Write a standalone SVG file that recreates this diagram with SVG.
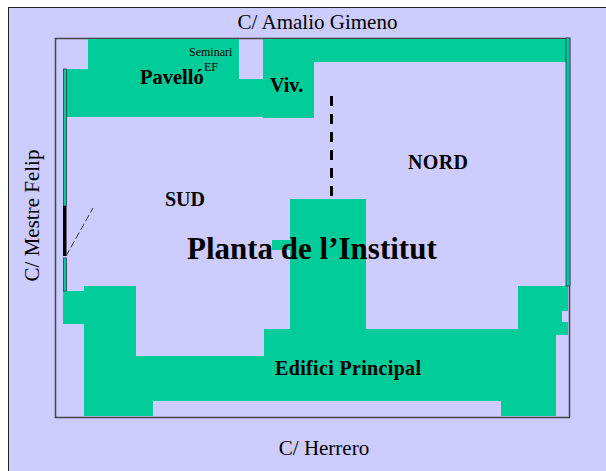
<svg xmlns="http://www.w3.org/2000/svg" width="606" height="471" viewBox="0 0 606 471">
<style>
.g{fill:#00cc99}
.t{font-family:"Liberation Serif",serif;fill:#000}
.b{font-weight:bold}
.e{stroke:#335;stroke-width:.8}
</style>
<rect width="606" height="471" fill="#fff"/>
<rect x="8.500" y="7.500" width="600" height="470" fill="#ccccff" stroke="#222" stroke-width="1"/>
<rect x="55.500" y="38.500" width="514" height="379" fill="none" stroke="#444" stroke-width="1.500"/>
<g id="pavello"><polygon class="g" points="88,39 239,39 239,79 263,79 263,39 566,39 566,62 314,62 314,118 263,118 263,117 66,117 66,69 88,69"/>
<text class="t b" x="140" y="84" font-size="20.500">Pavelló</text>
<text class="t" x="189" y="56" font-size="12">Seminari</text>
<text class="t" x="204" y="71" font-size="12">EF</text>
<text class="t b" x="270" y="92" font-size="20">Viv.</text></g>
<g id="edifici"><polygon class="g" points="84,286 136,286 136,356 264,356 264,329 290,329 290,250 272,250 272,240 290,240 290,199 366,199 366,329 518,329 518,286 568,286 568,311 562,311 562,322 568,322 568,335 556,335 556,416 501,416 501,401 153,401 153,416 84,416 84,324 63,324 63,291 84,291"/>
<text class="t b" x="275" y="375" font-size="20" textLength="146">Edifici Principal</text></g>
<g id="walls">
<rect x="63.500" y="69" width="3" height="137" fill="#00cc99" class="e"/>
<rect x="63" y="206" width="3.500" height="50" fill="#000"/>
<rect x="63.500" y="258" width="3" height="33" fill="#00cc99" class="e"/>
<rect x="566" y="38" width="4" height="248" fill="#00cc99" class="e"/>
</g>
<g id="connectors">
<line x1="66" y1="256" x2="93" y2="208" stroke="#333" stroke-width="1" stroke-dasharray="7 3"/>
<line x1="331.500" y1="96" x2="331.500" y2="198" stroke="#000" stroke-width="3" stroke-dasharray="10 8"/>
</g>
<g id="labels">
<text class="t" x="317.500" y="29" font-size="21" text-anchor="middle">C/ Amalio Gimeno</text>
<text class="t" x="324" y="455" font-size="21" text-anchor="middle">C/ Herrero</text>
<text class="t" transform="translate(39,215.500) rotate(-90)" font-size="21" text-anchor="middle">C/ Mestre Felip</text>
<text class="t b" x="165" y="206" font-size="20">SUD</text>
<text class="t b" x="408" y="169" font-size="20" textLength="60">NORD</text>
<text class="t b" x="187" y="259" font-size="31">Planta de l’Institut</text>
</g>
</svg>
